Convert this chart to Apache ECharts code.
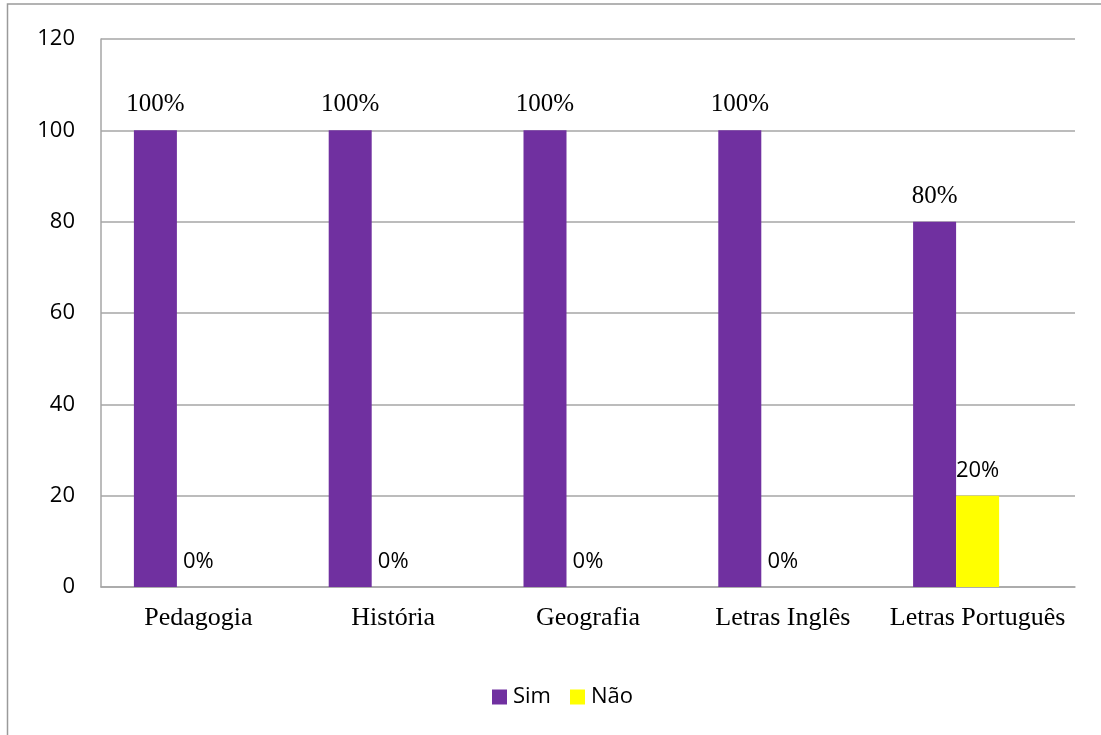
<!DOCTYPE html>
<html>
<head>
<meta charset="utf-8">
<script src="https://cdn.jsdelivr.net/npm/echarts@6/dist/echarts.min.js"></script>
<style>
  html, body { margin: 0; padding: 0; background: #fff; }
  #chart { width: 1101px; height: 735px; }
</style>
</head>
<body>
<div id="chart"></div>
<script>
// Courses surveyed and answers (percent)
const categories = ['Pedagogia', 'História', 'Geografia', 'Letras Inglês', 'Letras Português'];
const simValues = [100, 100, 100, 100, 80];
const naoValues = [0, 0, 0, 0, 20];
// Empty third slot of each cluster (kept so the Não bar sits on the category centre)
const emptyValues = [null, null, null, null, null];
const yTicks = { min: 0, max: 120, interval: 20 };

const sansFont = '"Open Sans", "Noto Sans", sans-serif';
const serifFont = '"Liberation Serif", "DejaVu Serif", serif';

const chart = echarts.init(document.getElementById('chart'));

chart.setOption({
  backgroundColor: '#ffffff',
  animation: false,
  graphic: [{
    type: 'rect',
    shape: { x: 7.5, y: 4, width: 1300, height: 900 },
    style: { fill: 'none', stroke: '#9a9a9a', lineWidth: 1.5 },
    silent: true
  }],
  grid: { left: 101, top: 39, right: 26, bottom: 148, containLabel: false },
  legend: {
    data: ['Sim', 'Não'],
    bottom: 22,
    left: 487,
    icon: 'rect',
    itemWidth: 15,
    itemHeight: 15,
    itemGap: 19,
    itemStyle: { borderWidth: 0 },
    textStyle: { fontFamily: sansFont, fontSize: 22, color: '#000', padding: [0, 0, 0, 1] }
  },
  xAxis: {
    type: 'category',
    data: categories,
    axisLine: { show: true, lineStyle: { color: '#a6a6a6', width: 1.5 } },
    axisTick: { show: false },
    axisLabel: { interval: 0, fontFamily: serifFont, fontSize: 26, color: '#000', margin: 18 }
  },
  yAxis: {
    type: 'value',
    min: yTicks.min,
    max: yTicks.max,
    interval: yTicks.interval,
    axisLine: { show: true, lineStyle: { color: '#a6a6a6', width: 1.5 } },
    axisTick: { show: false },
    splitLine: { lineStyle: { color: '#a6a6a6', width: 1.5 } },
    axisLabel: { fontFamily: sansFont, fontSize: 22, color: '#000', margin: 26 }
  },
  series: [
    {
      name: 'Sim',
      type: 'bar',
      data: simValues,
      barWidth: 43,
      barGap: '0%',
      itemStyle: { color: '#7030A0' },
      label: {
        show: true,
        position: 'top',
        distance: 13,
        formatter: '{c}%',
        fontFamily: serifFont,
        fontSize: 25,
        color: '#000'
      }
    },
    {
      name: 'Não',
      type: 'bar',
      data: naoValues,
      barWidth: 43,
      barGap: '0%',
      itemStyle: { color: '#FFFF00' },
      label: {
        show: true,
        position: 'top',
        distance: 14,
        formatter: '{c}%',
        fontFamily: sansFont,
        fontSize: 22,
        color: '#000'
      }
    },
    {
      name: '',
      type: 'bar',
      data: emptyValues,
      barWidth: 43,
      barGap: '0%',
      itemStyle: { color: 'transparent' }
    }
  ]
});
</script>
</body>
</html>
